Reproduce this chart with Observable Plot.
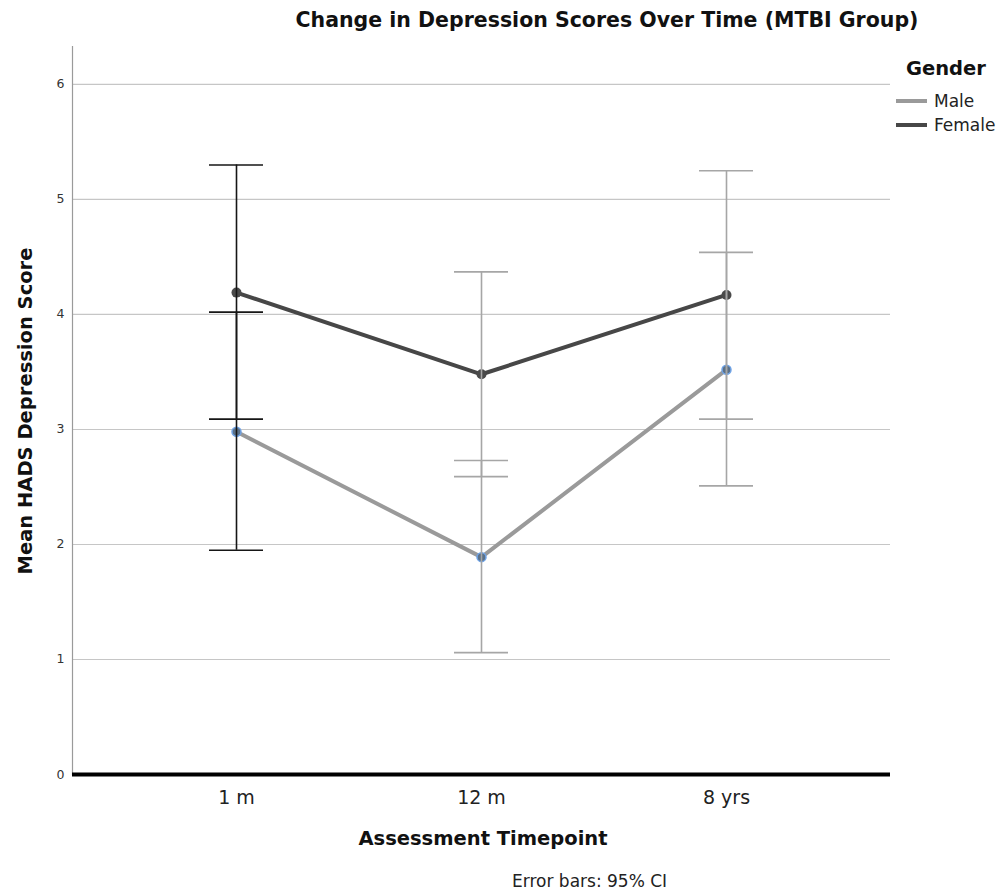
<!DOCTYPE html>
<html>
<head>
<meta charset="utf-8">
<script src="https://cdn.jsdelivr.net/npm/d3@7"></script>
<script src="https://cdn.jsdelivr.net/npm/@observablehq/plot@0.6"></script>
<style>
  html, body { margin: 0; padding: 0; background: #fff; }
  #wrap { position: relative; width: 1000px; height: 895px; font-family: "DejaVu Sans", sans-serif; color: #111; }
  .abs { position: absolute; white-space: nowrap; }
  #title { left: 607px; top: 8px; transform: translateX(-50%); font-weight: bold; font-size: 20.5px; }
  #ylabel { left: 25px; top: 411px; transform: translate(-50%, -50%) rotate(-90deg); font-weight: bold; font-size: 19.5px; }
  #xlabel { left: 483px; top: 827px; transform: translateX(-50%); font-weight: bold; font-size: 19.5px; }
  #caption { left: 512px; top: 871px; font-size: 17px; color: #222; }
  #legend { left: 896px; top: 57px; }
  #legend .head { font-weight: bold; font-size: 19.5px; margin-left: 10px; margin-bottom: 9px; }
  #legend .item { display: flex; align-items: center; font-size: 17px; height: 24px; color: #222; }
  #legend .sw { width: 31px; height: 4px; margin-right: 7px; }
</style>
</head>
<body>
<div id="wrap">
  <div id="plot"></div>
  <div id="title" class="abs">Change in Depression Scores Over Time (MTBI Group)</div>
  <div id="ylabel" class="abs">Mean HADS Depression Score</div>
  <div id="xlabel" class="abs">Assessment Timepoint</div>
  <div id="caption" class="abs">Error bars: 95% CI</div>
  <div id="legend" class="abs"></div>
</div>
<script>
// ---- data ----
const timepoints = ["1 m", "12 m", "8 yrs"];
const genders = ["Male", "Female"];
const maleMean = [2.98, 1.89, 3.52];
const maleLow = [1.95, 1.06, 2.51];
const maleHigh = [4.02, 2.73, 4.54];
const femaleMean = [4.19, 3.48, 4.17];
const femaleLow = [3.09, 2.59, 3.09];
const femaleHigh = [5.30, 4.37, 5.25];
const yTicks = [0, 1, 2, 3, 4, 5, 6];

const colors = {Male: "#9a9a9a", Female: "#474747"};

const rows = [];
timepoints.forEach((t, i) => {
  rows.push({time: t, gender: "Male", mean: maleMean[i], lo: maleLow[i], hi: maleHigh[i]});
  rows.push({time: t, gender: "Female", mean: femaleMean[i], lo: femaleLow[i], hi: femaleHigh[i]});
});
const male = rows.filter(d => d.gender === "Male");
const female = rows.filter(d => d.gender === "Female");
const errColor = d => d.time === timepoints[0] ? "#161616" : "#a6a6a6";

const chart = Plot.plot({
  width: 1000,
  height: 895,
  marginLeft: 72,
  marginRight: 110,
  marginTop: 46,
  marginBottom: 121,
  style: {fontFamily: "DejaVu Sans, sans-serif", background: "#fff"},
  x: {type: "band", domain: timepoints, paddingInner: 0.7805, paddingOuter: 0.553, label: null},
  y: {domain: [0, 6.33], label: null},
  marks: [
    Plot.ruleY(yTicks.filter(v => v > 0), {stroke: "#c6c6c6", strokeWidth: 1.2}),
    Plot.frame({anchor: "left", stroke: "#9a9a9a", strokeWidth: 1.2}),
    Plot.axisY({ticks: yTicks, tickSize: 0, tickPadding: 8, tickFormat: d3.format("d"), fontSize: 12.5, fill: "#333", label: null}),
    Plot.axisX({tickSize: 0, tickPadding: 16, fontSize: 19, fill: "#222", label: null}),
    Plot.line(male, {x: "time", y: "mean", stroke: colors.Male, strokeWidth: 4}),
    Plot.line(female, {x: "time", y: "mean", stroke: colors.Female, strokeWidth: 4}),
    Plot.dot(female, {x: "time", y: "mean", r: 5, fill: "#4a4a4a", stroke: "none"}),
    Plot.dot(male, {x: "time", y: "mean", r: 4.5, fill: "#5b7189", stroke: "#6fa3e6", strokeWidth: 1.5}),
    Plot.ruleX(rows, {x: "time", y1: "lo", y2: "hi", stroke: errColor, strokeWidth: 1.6}),
    Plot.tickY(rows, {x: "time", y: "lo", stroke: errColor, strokeWidth: 1.6}),
    Plot.tickY(rows, {x: "time", y: "hi", stroke: errColor, strokeWidth: 1.6}),
    Plot.ruleY([0], {stroke: "#000", strokeWidth: 4})
  ]
});
document.getElementById("plot").appendChild(chart);

const legend = document.getElementById("legend");
const head = document.createElement("div");
head.className = "head";
head.textContent = "Gender";
legend.appendChild(head);
genders.forEach(g => {
  const item = document.createElement("div");
  item.className = "item";
  const sw = document.createElement("div");
  sw.className = "sw";
  sw.style.background = colors[g];
  const lab = document.createElement("span");
  lab.textContent = g;
  item.appendChild(sw);
  item.appendChild(lab);
  legend.appendChild(item);
});
</script>
</body>
</html>
